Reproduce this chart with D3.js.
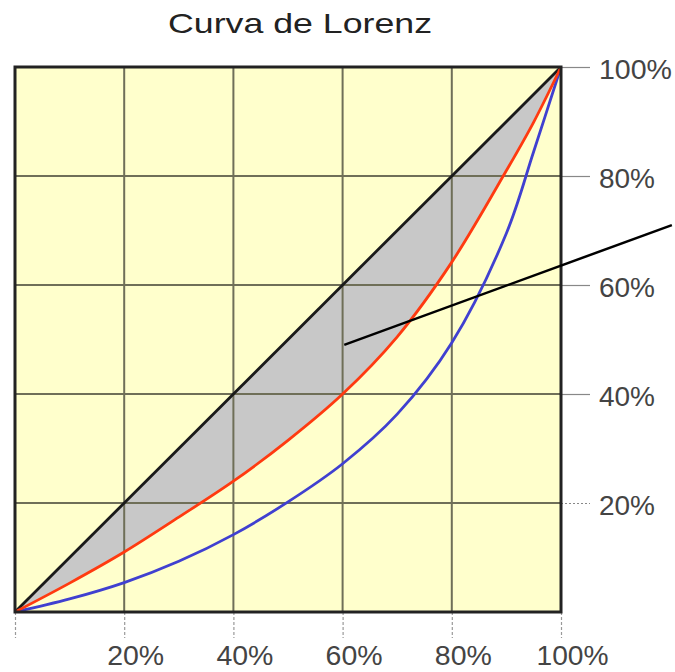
<!DOCTYPE html>
<html><head><meta charset="utf-8">
<script src="https://cdn.jsdelivr.net/npm/d3@7"></script>
<style>html,body{margin:0;padding:0;background:#fff;}svg{display:block;}</style>
</head><body>
<svg id="chart" width="675" height="672"></svg>
<script>
// Data (percentages)
const population = [0, 10, 20, 30, 40, 50, 60, 70, 80, 90, 95, 100];
const incomeRed  = [0, 5.3, 11.0, 17.4, 24.0, 31.5, 40.0, 50.5, 64.2, 81.0, 89.9, 100];
const incomeBlue = [0, 2.4, 5.4, 9.3, 14.2, 20.2, 27.2, 36.3, 49.4, 69.5, 84.5, 100];
const equality   = [0, 100];
const tickValues = [20, 40, 60, 80, 100];
const tickLabels = ["20%", "40%", "60%", "80%", "100%"];
const pointerLine = [[60.3, 49.0], [120.3, 71.0]];
const title = "Curva de Lorenz";

const svg = d3.select("#chart");
const x = d3.scaleLinear().domain([0, 100]).range([15, 561]);
const y = d3.scaleLinear().domain([0, 100]).range([612, 67]);
const FONT = "Liberation Sans, Arial, sans-serif";

// background
svg.append("rect").attr("x", x(0)).attr("y", y(100))
  .attr("width", x(100) - x(0)).attr("height", y(0) - y(100))
  .attr("fill", "#ffffcc");

const redPts = population.map((p, i) => [p, incomeRed[i]]);
const bluePts = population.map((p, i) => [p, incomeBlue[i]]);
const curve = d3.curveCatmullRom.alpha(0.5);

// grey area between equality line and red curve
const area = d3.area().x(d => x(d[0])).y0(d => y(d[0])).y1(d => y(d[1])).curve(curve);
svg.append("path").datum(redPts).attr("d", area).attr("fill", "#c8c8c8");

// grid
const grid = svg.append("g");
[20, 40, 60, 80].forEach(v => {
  grid.append("line").attr("x1", x(v)).attr("x2", x(v)).attr("y1", y(0)).attr("y2", y(100))
    .attr("stroke", "#6f6f58").attr("stroke-width", 2);
  grid.append("line").attr("x1", x(0)).attr("x2", x(100)).attr("y1", y(v)).attr("y2", y(v))
    .attr("stroke", "#6f6f58").attr("stroke-width", 2);
});

// right axis ticks
const yAxis = d3.axisRight(y).tickValues(tickValues).tickSize(29).tickPadding(9)
  .tickFormat((d, i) => tickLabels[i]);
const ga = svg.append("g").attr("transform", `translate(${x(100)},0)`).call(yAxis);
ga.select(".domain").remove();
ga.selectAll(".tick line").attr("stroke", "#888").attr("stroke-width", 1.2)
  .attr("stroke-dasharray", d => d === 20 ? "2,2" : null);
ga.selectAll(".tick text").attr("font-family", FONT)
  .attr("font-size", 28).attr("fill", "#444").attr("dy", "0.42em")
  .each(function(d){ d3.select(this).attr("textLength", d === 100 ? 73 : 56).attr("lengthAdjust", "spacingAndGlyphs"); });

// bottom axis ticks
const xAxis = d3.axisBottom(x).tickValues([0].concat(tickValues)).tickSize(26).tickPadding(5)
  .tickFormat(d => d === 0 ? "" : tickLabels[tickValues.indexOf(d)]);
const gb = svg.append("g").attr("transform", `translate(0,${y(0)})`).call(xAxis);
gb.select(".domain").remove();
gb.selectAll(".tick line").attr("stroke", "#999").attr("stroke-width", 1.2).attr("stroke-dasharray", "3,2");
gb.selectAll(".tick text").attr("font-family", FONT)
  .attr("font-size", 27).attr("fill", "#444").attr("dx", 11).attr("y", 53).attr("dy", 0)
  .each(function(d){ d3.select(this).attr("textLength", d === 100 ? 72 : 57).attr("lengthAdjust", "spacingAndGlyphs"); });

// lines
const line = d3.line().x(d => x(d[0])).y(d => y(d[1])).curve(curve);
svg.append("path").datum(equality.map(v => [v, v])).attr("d", d3.line().x(d => x(d[0])).y(d => y(d[1])))
  .attr("fill", "none").attr("stroke", "#1a1a1a").attr("stroke-width", 2.8);
svg.append("path").datum(bluePts).attr("d", line)
  .attr("fill", "none").attr("stroke", "#4040d0").attr("stroke-width", 2.8);
svg.append("path").datum(redPts).attr("d", line)
  .attr("fill", "none").attr("stroke", "#ff3a10").attr("stroke-width", 2.8);

// border
svg.append("rect").attr("x", x(0)).attr("y", y(100))
  .attr("width", x(100) - x(0)).attr("height", y(0) - y(100))
  .attr("fill", "none").attr("stroke", "#222").attr("stroke-width", 3);

// pointer line
svg.append("path").datum(pointerLine).attr("d", d3.line().x(d => x(d[0])).y(d => y(d[1])))
  .attr("stroke", "#000").attr("stroke-width", 2.5).attr("fill", "none");

// title
svg.append("text").attr("x", 300).attr("y", 33).attr("text-anchor", "middle")
  .attr("font-family", FONT).attr("font-size", 28)
  .attr("fill", "#222").attr("textLength", 264).attr("lengthAdjust", "spacingAndGlyphs")
  .text(title);
</script>
</body></html>
